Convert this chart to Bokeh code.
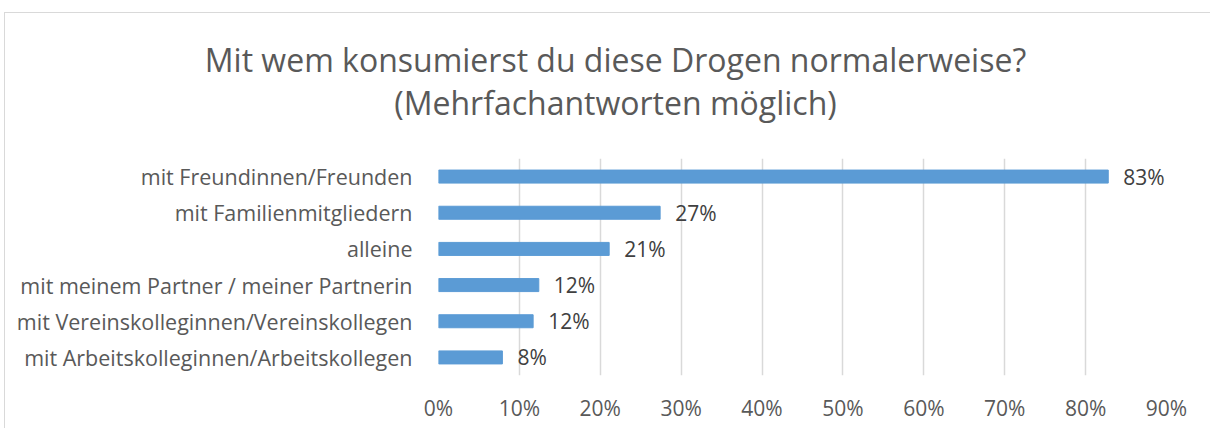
from bokeh.plotting import figure
from bokeh.layouts import column
from bokeh.models import FactorRange, Range1d, ColumnDataSource, FixedTicker, NumeralTickFormatter
from bokeh.core.properties import value
from bokeh.embed import file_html
from bokeh.resources import INLINE

title_lines = ["Mit wem konsumierst du diese Drogen normalerweise?",
               "(Mehrfachantworten möglich)"]
categories = [
    "mit Freundinnen/Freunden",
    "mit Familienmitgliedern",
    "alleine",
    "mit meinem Partner / meiner Partnerin",
    "mit Vereinskolleginnen/Vereinskollegen",
    "mit Arbeitskolleginnen/Arbeitskollegen",
]
values = [0.828, 0.274, 0.211, 0.124, 0.117, 0.079]
value_labels = ["83%", "27%", "21%", "12%", "12%", "8%"]
x_ticks = [0.0, 0.1, 0.2, 0.3, 0.4, 0.5, 0.6, 0.7, 0.8, 0.9]

FONT = "Open Sans"
TXT = "#595959"
W = 1205
TOP_H = 145

# --- title strip ---
top = figure(width=W, height=TOP_H, x_range=Range1d(0, W), y_range=Range1d(TOP_H, 0),
             output_backend="svg", toolbar_location=None,
             x_axis_location=None, y_axis_location=None, min_border=0)
top.frame_align = False
top.outline_line_color = None
top.xgrid.grid_line_color = None
top.ygrid.grid_line_color = None
tsrc = ColumnDataSource(dict(x=[610, 610], y=[46, 89], t=title_lines))
top.text(x="x", y="y", text="t", source=tsrc, text_align="center", text_baseline="alphabetic",
         text_font=value(FONT), text_font_size="32px", text_color=TXT)

# --- bar chart ---
src = ColumnDataSource(dict(cat=categories, val=values, lab=value_labels))
p = figure(
    width=W, height=270,
    y_range=FactorRange(*reversed(categories), range_padding=0),
    x_range=Range1d(0, 0.9),
    output_backend="svg", toolbar_location=None,
    min_border_left=433, min_border_right=44, min_border_top=0, min_border_bottom=53,
    frame_width=728, frame_height=217,
)
p.outline_line_color = None

p.hbar(y="cat", right="val", left=0, height=0.36, source=src, color="#5B9BD5")
p.text(x="val", y="cat", text="lab", source=src, x_offset=15, text_align="left",
       text_baseline="middle", text_font_size="21px", text_color="#404040",
       text_font=value(FONT))

p.xaxis.ticker = FixedTicker(ticks=x_ticks)
p.xaxis.formatter = NumeralTickFormatter(format="0%")
p.xaxis.axis_line_color = None
p.xaxis.major_tick_line_color = None
p.xaxis.minor_tick_line_color = None
p.xaxis.major_label_standoff = 12
p.xaxis.major_label_text_font = FONT
p.xaxis.major_label_text_font_size = "21px"
p.xaxis.major_label_text_color = TXT

p.yaxis.axis_line_color = None
p.yaxis.major_tick_line_color = None
p.yaxis.minor_tick_line_color = None
p.yaxis.major_label_standoff = 20
p.yaxis.major_label_text_font = FONT
p.yaxis.major_label_text_font_size = "21.5px"
p.yaxis.major_label_text_color = TXT

p.xgrid.grid_line_color = "#D9D9D9"
p.xgrid.grid_line_width = 1.5
p.ygrid.grid_line_color = None

layout = column(top, p, spacing=0, margin=(12, 0, 0, 4))
layout.styles = {"border-top": "1px solid #D9D9D9", "border-left": "1px solid #D9D9D9"}

open("out.html", "w").write(file_html(layout, INLINE))
